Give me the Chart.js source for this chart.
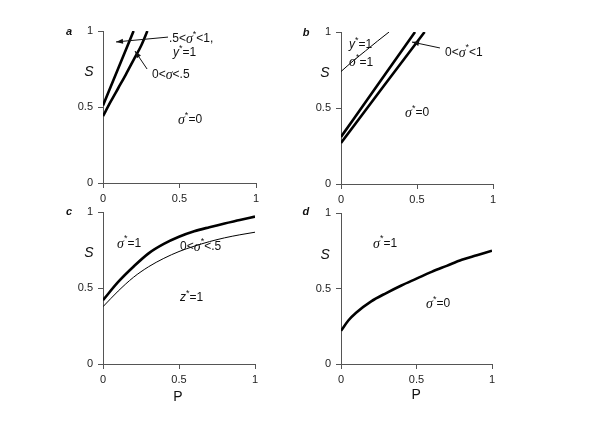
<!DOCTYPE html>
<html>
<head>
<meta charset="utf-8">
<script src="https://cdn.jsdelivr.net/npm/chart.js@4.4.0/dist/chart.umd.min.js"></script>
<style>
  body { margin: 0; background: #fff; }
  #wrap { position: relative; width: 600px; height: 424px; }
  canvas { position: absolute; left: 0; top: 0; }
</style>
</head>
<body>
<div id="wrap">
  <canvas id="pa" width="600" height="424"></canvas>
  <canvas id="pb" width="600" height="424"></canvas>
  <canvas id="pc" width="600" height="424"></canvas>
  <canvas id="pd" width="600" height="424"></canvas>
</div>
<script>
// ---- data ----
const tickVals = [0, 0.5, 1];

// panel a
const aP1 = [0, 0.1, 0.2];
const aS1 = [0.51, 0.755, 1.0];
const aP2 = [0, 0.05, 0.1, 0.15, 0.2, 0.25, 0.29];
const aS2 = [0.44, 0.535, 0.625, 0.715, 0.81, 0.905, 1.0];

// panel b
const bP1 = [0, 0.25, 0.487];
const bS1 = [0.31, 0.665, 1.0];
const bP2 = [0, 0.27, 0.55];
const bS2 = [0.27, 0.63, 1.0];
const bP3 = [0, 0.08, 0.16, 0.24, 0.316];
const bS3 = [0.74, 0.81, 0.875, 0.94, 1.0];

// panel c
const cP = [0, 0.1, 0.2, 0.3, 0.4, 0.5, 0.6, 0.7, 0.8, 0.9, 1];
const cS1 = [0.42, 0.54, 0.64, 0.728, 0.79, 0.837, 0.873, 0.90, 0.925, 0.947, 0.97];
const cS2 = [0.377, 0.48, 0.57, 0.64, 0.695, 0.74, 0.775, 0.805, 0.83, 0.85, 0.867];

// panel d
const dP = [0, 0.05, 0.1, 0.2, 0.3, 0.4, 0.5, 0.6, 0.7, 0.8, 0.9, 1];
const dS = [0.22, 0.29, 0.34, 0.415, 0.47, 0.52, 0.565, 0.61, 0.65, 0.69, 0.72, 0.75];

function pts(xs, ys) {
  return xs.map(function(x, i) { return { x: x, y: ys[i] }; });
}

// rich text: sigma italic serif, * superscript, y/z italic
function drawRich(ctx, str, x, y) {
  let cx = x;
  for (const ch of str) {
    let font = '12px "Liberation Sans"', dy = 0;
    if (ch === 'σ') font = 'italic 14px "Liberation Serif"';
    else if (ch === '*') { font = '9px "Liberation Sans"'; dy = -5; }
    else if (ch === 'y' || ch === 'z') font = 'italic 12px "Liberation Sans"';
    ctx.font = font;
    ctx.fillText(ch, cx, y + dy);
    cx += ctx.measureText(ch).width;
  }
}

function arrow(ctx, x1, y1, x2, y2) {
  ctx.beginPath();
  ctx.moveTo(x1, y1);
  ctx.lineTo(x2, y2);
  ctx.stroke();
  let a = Math.atan2(y2 - y1, x2 - x1);
  ctx.beginPath();
  ctx.moveTo(x2, y2);
  ctx.lineTo(x2 - 7 * Math.cos(a) + 2.5 * Math.sin(a), y2 - 7 * Math.sin(a) - 2.5 * Math.cos(a));
  ctx.lineTo(x2 - 7 * Math.cos(a) - 2.5 * Math.sin(a), y2 - 7 * Math.sin(a) + 2.5 * Math.cos(a));
  ctx.closePath();
  ctx.fill();
}

// notes are placed in data units of each panel
function notesPlugin(notes) {
  return {
    id: 'notes',
    afterDraw: function(chart) {
      let ctx = chart.ctx;
      let xs = chart.scales.x, ys = chart.scales.y;
      ctx.save();
      ctx.fillStyle = '#111';
      ctx.strokeStyle = '#111';
      ctx.lineWidth = 1;
      ctx.textBaseline = 'middle';
      notes.forEach(function(n) {
        let px = xs.getPixelForValue(n.x), py = ys.getPixelForValue(n.y);
        if (n.type === 'rich') {
          ctx.textAlign = 'left';
          drawRich(ctx, n.text, px, py);
        } else if (n.type === 'letter') {
          ctx.textAlign = 'center';
          ctx.font = 'bold italic 11px "Liberation Sans"';
          ctx.fillText(n.text, px, py);
        } else if (n.type === 'label') {
          ctx.textAlign = 'center';
          ctx.font = (n.italic ? 'italic ' : '') + '14px "Liberation Sans"';
          ctx.fillText(n.text, px, py);
        } else if (n.type === 'arrow') {
          arrow(ctx, px, py, xs.getPixelForValue(n.x2), ys.getPixelForValue(n.y2));
        }
      });
      ctx.restore();
    }
  };
}

function makePanel(id, box, datasets, notes) {
  const yW = 30, xH = 25;
  let axis = function(isX) {
    return {
      type: 'linear',
      min: 0,
      max: 1,
      afterBuildTicks: function(scale) {
        scale.ticks = tickVals.map(function(v) { return { value: v }; });
      },
      afterFit: function(scale) {
        if (isX) scale.height = xH; else scale.width = yW;
      },
      grid: { drawOnChartArea: false, drawTicks: true, tickLength: 5, color: '#555', lineWidth: 1 },
      border: { display: true, color: '#555', width: 1 },
      ticks: {
        color: '#222',
        padding: isX ? 4 : 5,
        maxRotation: 0,
        font: { family: '"Liberation Sans"', size: 11 },
        callback: function(v) { return String(v); }
      }
    };
  };
  return new Chart(document.getElementById(id), {
    type: 'line',
    data: { datasets: datasets },
    options: {
      responsive: false,
      animation: false,
      events: [],
      layout: {
        padding: { left: box.l - yW, right: 600 - box.r, top: box.t, bottom: 424 - box.b - xH }
      },
      plugins: { legend: { display: false }, tooltip: { enabled: false } },
      elements: { point: { radius: 0 } },
      scales: { x: axis(true), y: axis(false) }
    },
    plugins: [notesPlugin(notes)]
  });
}

function thick(xs, ys) {
  return { data: pts(xs, ys), borderColor: '#000', borderWidth: 2.6, cubicInterpolationMode: 'monotone', fill: false };
}
function thin(xs, ys) {
  return { data: pts(xs, ys), borderColor: '#000', borderWidth: 1, cubicInterpolationMode: 'monotone', fill: false };
}

makePanel('pa', { l: 103, r: 256, t: 31, b: 183 },
  [thick(aP1, aS1), thick(aP2, aS2)],
  [
    { type: 'letter', text: 'a', x: -0.222, y: 0.993 },
    { type: 'label', text: 'S', italic: true, x: -0.092, y: 0.73 },
    { type: 'rich', text: '.5<σ*<1,', x: 0.431, y: 0.947 },
    { type: 'rich', text: 'y*=1', x: 0.458, y: 0.855 },
    { type: 'arrow', x: 0.425, y: 0.96, x2: 0.085, y2: 0.928 },
    { type: 'rich', text: '0<σ<.5', x: 0.32, y: 0.71 },
    { type: 'arrow', x: 0.288, y: 0.75, x2: 0.209, y2: 0.868 },
    { type: 'rich', text: 'σ*=0', x: 0.49, y: 0.414 }
  ]);

makePanel('pb', { l: 341, r: 493, t: 32, b: 184 },
  [thick(bP1, bS1), thick(bP2, bS2), thin(bP3, bS3)],
  [
    { type: 'letter', text: 'b', x: -0.23, y: 0.993 },
    { type: 'label', text: 'S', italic: true, x: -0.105, y: 0.73 },
    { type: 'rich', text: 'y*=1', x: 0.053, y: 0.914 },
    { type: 'rich', text: 'σ*=1', x: 0.053, y: 0.80 },
    { type: 'rich', text: '0<σ*<1', x: 0.684, y: 0.862 },
    { type: 'arrow', x: 0.651, y: 0.895, x2: 0.467, y2: 0.934 },
    { type: 'rich', text: 'σ*=0', x: 0.421, y: 0.467 }
  ]);

makePanel('pc', { l: 103, r: 255, t: 212, b: 364 },
  [thick(cP, cS1), thin(cP, cS2)],
  [
    { type: 'letter', text: 'c', x: -0.224, y: 1.0 },
    { type: 'label', text: 'S', italic: true, x: -0.092, y: 0.73 },
    { type: 'label', text: 'P', x: 0.493, y: -0.217 },
    { type: 'rich', text: 'σ*=1', x: 0.092, y: 0.79 },
    { type: 'rich', text: '0<σ*<.5', x: 0.507, y: 0.77 },
    { type: 'rich', text: 'z*=1', x: 0.507, y: 0.434 }
  ]);

makePanel('pd', { l: 341, r: 492, t: 213, b: 364 },
  [thick(dP, dS)],
  [
    { type: 'letter', text: 'd', x: -0.232, y: 1.007 },
    { type: 'label', text: 'S', italic: true, x: -0.105, y: 0.72 },
    { type: 'label', text: 'P', x: 0.497, y: -0.205 },
    { type: 'rich', text: 'σ*=1', x: 0.212, y: 0.795 },
    { type: 'rich', text: 'σ*=0', x: 0.563, y: 0.397 }
  ]);
</script>
</body>
</html>
